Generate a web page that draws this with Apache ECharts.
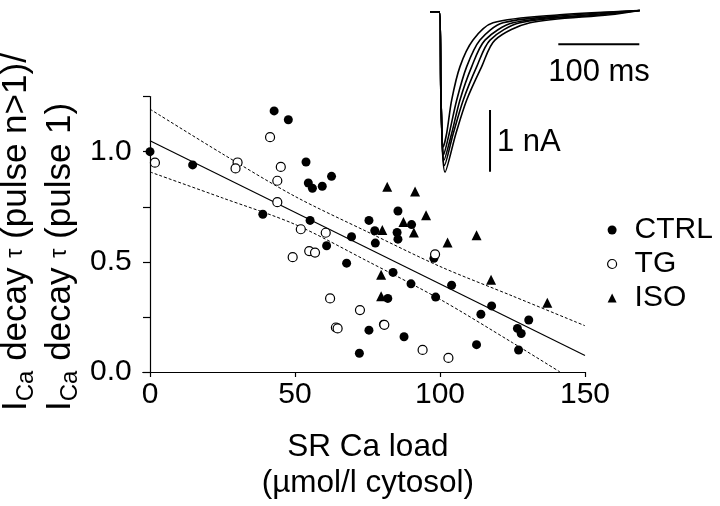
<!DOCTYPE html>
<html><head><meta charset="utf-8">
<script src="https://cdn.jsdelivr.net/npm/echarts@6/dist/echarts.min.js"></script>
<style>html,body{margin:0;padding:0;background:#fff}#c{width:720px;height:506px}</style>
</head><body><div id="c"></div>
<script>
const FONT = '"Liberation Sans", Arial, Helvetica, sans-serif';

// axis ticks
const xTicks = [0, 50, 100, 150];
const yTicks = [0, 0.5, 1.0];

// scatter data: [SR Ca load, tau ratio]
const ctrl = [[0,1.0],[14.7,0.94],[42.8,1.185],[47.7,1.145],[38.9,0.716],[53.8,0.953],[54.6,0.858],[56,0.834],[59.4,0.843],[62.6,0.888],[55.2,0.688],[69.5,0.614],[60.9,0.573],[67.8,0.494],[85.5,0.731],[75.5,0.688],[90.2,0.669],[77.5,0.641],[85.2,0.633],[85.5,0.603],[77.7,0.585],[97.9,0.516],[83.8,0.452],[90,0.40],[98.5,0.34],[82,0.334],[75.5,0.19],[80.5,0.217],[87.6,0.16],[72.2,0.085],[104,0.394],[117.8,0.30],[114.1,0.262],[130.6,0.236],[126.7,0.198],[128,0.175],[112.6,0.124],[127.1,0.10]];
const tg = [[1.7,0.95],[30.2,0.951],[29.5,0.924],[41.4,1.066],[45.1,0.931],[43.9,0.868],[43.9,0.771],[52,0.648],[60.6,0.632],[49.2,0.521],[54.9,0.549],[56.9,0.542],[98.3,0.534],[62.1,0.334],[72.4,0.281],[64.1,0.202],[64.7,0.198],[80.8,0.214],[94,0.10],[102.9,0.064]];
const iso = [[81.8,0.841],[91.4,0.819],[95.2,0.711],[87.4,0.681],[80.1,0.644],[91,0.633],[79.7,0.441],[79.7,0.344],[102.6,0.588],[112.6,0.621],[117.6,0.419],[137,0.314]];

// regression line and confidence band
const fitLine = [[0,1.05],[150,0.075]];
const upperBand = [[0,1.193],[25,0.99],[50,0.797],[75,0.636],[100,0.479],[125,0.345],[150,0.21]];
const lowerBand = [[0,0.908],[25,0.79],[50,0.67],[75,0.503],[100,0.33],[125,0.133],[141.4,0]];

// inset current traces: [time ms, current nA]
const trace1 = [[0,0],[11.7,0],[13.6,-1.43],[16.4,-2.19],[20.6,-1.97],[26.8,-1.43],[37,-0.89],[53.1,-0.46],[77.8,-0.18],[160,-0.05],[259,0.02]];
const trace2 = [[0,0],[11.7,0],[13.6,-1.43],[16.9,-2.32],[23.8,-1.97],[33,-1.43],[45.3,-0.89],[61.7,-0.46],[90.1,-0.18],[179,-0.05],[259,0.02]];
const trace3 = [[0,0],[11.7,0],[13.6,-1.43],[17.4,-2.40],[26.8,-1.97],[37,-1.43],[51.5,-0.89],[67.9,-0.46],[102.5,-0.18],[198,-0.05],[259,0.02]];
const trace4 = [[0,0],[11.7,0],[13.6,-1.43],[18.0,-2.49],[28.8,-1.97],[41.1,-1.43],[57.7,-0.89],[74.1,-0.46],[111.1,-0.18],[210,-0.05],[259,0.02]];
const trace5 = [[0,0],[11.7,0],[13.6,-1.43],[18.6,-2.60],[32.1,-1.97],[45.3,-1.43],[63.8,-0.89],[80.2,-0.46],[123.5,-0.18],[222,-0.05],[259,0.02]];
const scaleBarTime = [[158.4,-0.528],[258.4,-0.528]];
const scaleBarCurrent = [[74.1,-1.593],[74.1,-2.593]];

const chart = echarts.init(document.getElementById('c'), null, {renderer:'canvas'});

function traceSeries(d){
  return {type:'line', xAxisIndex:1, yAxisIndex:1, data:d, symbol:'none', smooth:0.3,
    lineStyle:{color:'#000', width:1.6}, silent:true, z:2};
}

const option = {
  animation:false,
  backgroundColor:'#fff',
  textStyle:{fontFamily:FONT, color:'#000'},
  grid:[
    {left:142.75, right:135, top:96.6, bottom:131, containLabel:false},
    {left:430, right:79.4, top:5.53, bottom:327.7, containLabel:false}
  ],
  xAxis:[
    {type:'value', gridIndex:0, min:-2.5, max:150,
     splitLine:{show:false},
     axisLine:{lineStyle:{color:'#000', width:1.2}},
     axisTick:{show:true, length:5, customValues:xTicks, lineStyle:{color:'#000', width:1.2}},
     axisLabel:{customValues:xTicks, fontSize:30, color:'#000', fontFamily:FONT, margin:8},
     name:'SR Ca load\n(µmol/l cytosol)', nameLocation:'middle', nameGap:57,
     nameTextStyle:{fontSize:31.5, lineHeight:36, color:'#000', fontFamily:FONT, padding:[0,0,0,8]}},
    {type:'value', gridIndex:1, min:0, max:260, show:false}
  ],
  yAxis:[
    {type:'value', gridIndex:0, min:0, max:1.25, interval:0.25,
     splitLine:{show:false},
     axisLine:{onZero:true, lineStyle:{color:'#000', width:1.2}},
     axisTick:{length:7, lineStyle:{color:'#000', width:1.2}},
     axisLabel:{fontSize:30, color:'#000', fontFamily:FONT, margin:11, padding:[0,0,7,0],
       formatter:function(v){ return yTicks.some(t=>Math.abs(t-v)<1e-9) ? v.toFixed(1) : ''; }}},
    {type:'value', gridIndex:1, min:-2.7, max:0.1, show:false}
  ],
  legend:{orient:'vertical', left:607, top:215, padding:0, itemGap:4, itemWidth:9, itemHeight:9,
    textStyle:{fontSize:30, lineHeight:30, color:'#000', fontFamily:FONT, padding:[0,0,0,13]},
    data:[
      {name:'CTRL', icon:'circle', itemStyle:{color:'#000'}},
      {name:'TG', icon:'circle', itemStyle:{color:'#fff', borderColor:'#000', borderWidth:1.2}},
      {name:'ISO', icon:'triangle', itemStyle:{color:'#000'}}
    ]},
  graphic:[
    {type:'text', x:-6, y:411, rotation:Math.PI/2, silent:true,
     style:{
       text:'{b|I}{s|Ca}{b| decay }{t|τ}{b| (pulse n>1)/}\n{b|I}{s|Ca}{b| decay }{t|τ}{b| (pulse 1)}',
       align:'left', verticalAlign:'top', fill:'#000',
       rich:{
         b:{fontSize:35, lineHeight:44, fontFamily:FONT, color:'#000'},
         s:{fontSize:24, fontFamily:FONT, color:'#000', verticalAlign:'bottom', lineHeight:24},
         t:{fontSize:23, fontFamily:FONT, color:'#000', verticalAlign:'middle'}
       }}},
    {type:'text', x:599, y:72, silent:true,
     style:{text:'100 ms', fontSize:31, fontFamily:FONT, fill:'#000', align:'center', verticalAlign:'middle'}},
    {type:'text', x:497, y:142, silent:true,
     style:{text:'1 nA', fontSize:31, fontFamily:FONT, fill:'#000', align:'left', verticalAlign:'middle'}}
  ],
  series:[
    {name:'fit', type:'line', data:fitLine, symbol:'none', lineStyle:{color:'#000', width:1.2}, z:1, silent:true},
    {name:'upper', type:'line', data:upperBand, symbol:'none', smooth:0.3, lineStyle:{color:'#000', width:1, type:[3,2]}, z:1, silent:true},
    {name:'lower', type:'line', data:lowerBand, symbol:'none', smooth:0.3, lineStyle:{color:'#000', width:1, type:[3,2]}, z:1, silent:true},
    {name:'CTRL', type:'scatter', data:ctrl, symbol:'circle', symbolSize:9, itemStyle:{color:'#000', opacity:1}, z:3},
    {name:'TG', type:'scatter', data:tg, symbol:'circle', symbolSize:9, itemStyle:{color:'#fff', borderColor:'#000', borderWidth:1.2, opacity:1}, z:4},
    {name:'ISO', type:'scatter', data:iso, symbol:'triangle', symbolSize:10, itemStyle:{color:'#000', opacity:1}, z:3},
    traceSeries(trace1), traceSeries(trace2), traceSeries(trace3), traceSeries(trace4), traceSeries(trace5),
    {type:'line', xAxisIndex:1, yAxisIndex:1, data:scaleBarTime, symbol:'none', lineStyle:{color:'#000', width:2}, silent:true},
    {type:'line', xAxisIndex:1, yAxisIndex:1, data:scaleBarCurrent, symbol:'none', lineStyle:{color:'#000', width:2}, silent:true}
  ]
};
chart.setOption(option);
</script></body></html>
